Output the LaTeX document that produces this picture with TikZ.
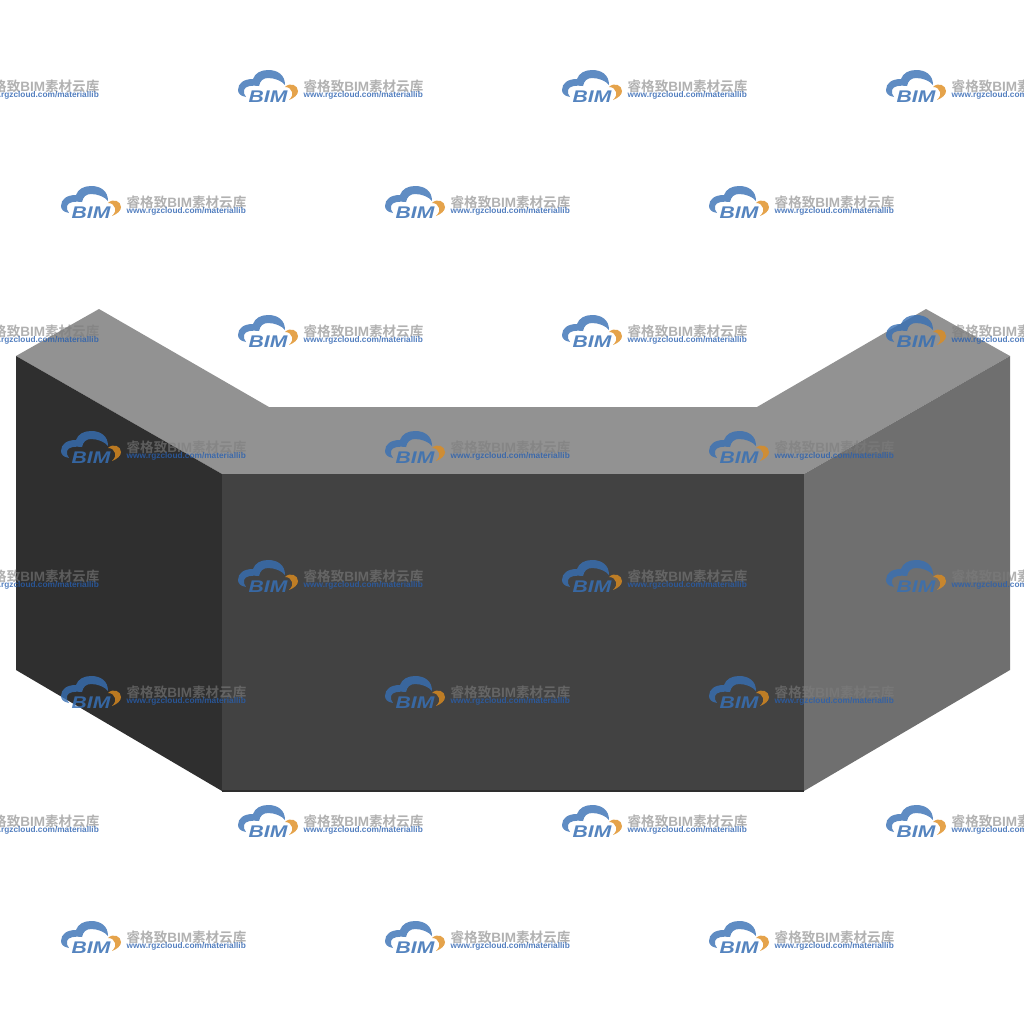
\documentclass[tikz,border=0pt]{standalone}
\usepackage{fontspec}
\setmainfont{Liberation Sans}
\newfontfamily\cjkfont{Noto Sans CJK SC}[BoldFont={* Bold}]
\usetikzlibrary{calc}
\definecolor{cloudblue}{RGB}{55,111,180}
\definecolor{cloudorange}{RGB}{222,140,30}
\definecolor{markgray}{RGB}{125,125,125}
\definecolor{urlblue}{RGB}{40,95,175}
\definecolor{faceleft}{RGB}{47,47,47}
\definecolor{facefront}{RGB}{66,66,66}
\definecolor{faceright}{RGB}{111,111,111}
\definecolor{facetop}{RGB}{146,146,146}
\tikzset{
  marktitle/.style={anchor=west,inner sep=0pt,text=markgray,opacity=.6,font=\bfseries\fontsize{3.85}{4}\selectfont},
  markurl/.style={anchor=west,inner sep=0pt,text=urlblue,opacity=.8,font=\bfseries\fontsize{2.36}{3}\selectfont},
  markbim/.style={anchor=center,inner sep=0pt,text=cloudblue,opacity=.85,xscale=1.25,font=\bfseries\itshape\fontsize{4.8}{5}\selectfont}
}
\newcommand\bimmark[2]{%
  \begin{scope}[shift={(#1,#2)}]
    \fill[cloudblue,opacity=.8] (8,27) .. controls (2,26) and (0,23) .. (0,20) .. controls (0,13) and (6,9) .. (15,9) .. controls (17,3) and (23,0) .. (30,0) .. controls (40,0) and (47,5) .. (47,15) .. controls (44,11) and (37,8) .. (30,8) .. controls (25,8) and (22,11) .. (21,16) .. controls (14,15) and (7,16) .. (6,20) .. controls (5.5,22) and (6,25) .. (8,27) -- cycle;
    \fill[cloudorange,opacity=.8] (47,17) .. controls (52,12) and (60,15) .. (60,21) .. controls (60,25) and (56,28) .. (51,30) .. controls (54,27) and (55,24) .. (54,22) .. controls (53,19) and (51,17) .. (47,17) -- cycle;
    \node[markbim] at (30,27) {BIM};
    \node[marktitle] at (65,16.5) {{\cjkfont 睿格致}BIM{\cjkfont 素材云库}};
    \node[markurl] at (65,25.5) {www.rgzcloud.com/materiallib};
  \end{scope}
}
\newcommand\bimrowa[1]{%
  \bimmark{-86}{#1}
  \bimmark{238}{#1}
  \bimmark{562}{#1}
  \bimmark{886}{#1}
}
\newcommand\bimrowb[1]{%
  \bimmark{61}{#1}
  \bimmark{385}{#1}
  \bimmark{709}{#1}
}
\begin{document}
\begin{tikzpicture}[x=0.01cm,y=-0.01cm]
  \useasboundingbox (0,0) rectangle (1024,1024);
  \clip (0,0) rectangle (1024,1024);

  % The block
  \fill[facetop] (16,356) -- (99,309) -- (269,407) -- (757,407) -- (926,309) -- (1010,356) -- (804,474) -- (222,474) -- cycle;
  \fill[faceleft] (16,356) -- (222,474) -- (222,791) -- (16,670) -- cycle;
  \fill[facefront] (222,474) -- (804,474) -- (804,791) -- (222,791) -- cycle;
  \fill[faceright] (804,474) -- (1010,356) -- (1010,670) -- (804,791) -- cycle;
  \draw[line width=0.4pt,facefront!70!black] (222,791) -- (804,791);

  % The watermark
  \bimrowa{70}
  \bimrowb{186}
  \bimrowa{315}
  \bimrowb{431}
  \bimrowa{560}
  \bimrowb{676}
  \bimrowa{805}
  \bimrowb{921}
\end{tikzpicture}
\end{document}
